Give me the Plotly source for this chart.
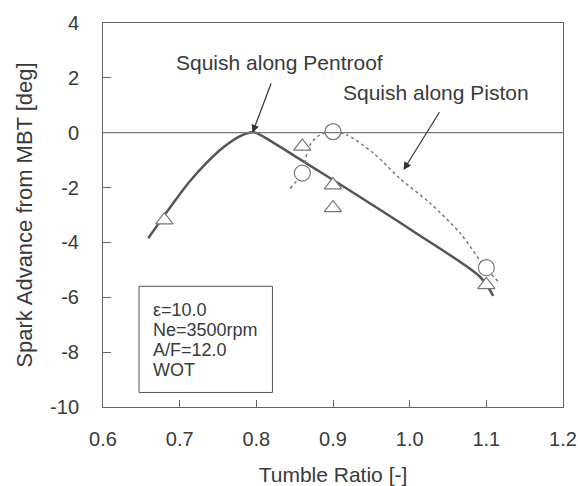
import plotly.graph_objects as go

# Measured points
tri_x = [0.68, 0.86, 0.90, 0.90, 1.10]
tri_y = [-3.19, -0.5, -1.91, -2.74, -5.55]
cir_x = [0.86, 0.90, 1.10]
cir_y = [-1.47, 0.04, -4.92]

# Fitted curves
pent_x = [0.659, 0.679, 0.692, 0.713, 0.735, 0.757, 0.779, 0.796, 0.822, 0.857, 0.909, 1.005, 1.092, 1.109]
pent_y = [-3.85, -3.05, -2.55, -1.78, -1.1, -0.53, -0.12, 0.02, -0.36, -0.97, -1.88, -3.6, -5.26, -5.95]
pist_x = [0.844, 0.86, 0.868, 0.88, 0.898, 0.918, 0.953, 0.987, 1.027, 1.066, 1.098, 1.118]
pist_y = [-2.03, -1.47, -0.55, -0.13, 0.04, -0.08, -0.75, -1.66, -2.58, -3.67, -4.89, -5.5]

x_ticks = [0.6, 0.7, 0.8, 0.9, 1.0, 1.1, 1.2]
x_tick_text = ["0.6", "0.7", "0.8", "0.9", "1.0", "1.1", "1.2"]
y_ticks = [4, 2, 0, -2, -4, -6, -8, -10]
y_tick_text = ["4", "2", "0", "-2", "-4", "-6", "-8", "-10"]

cond_lines = ["ε=10.0", "Ne=3500rpm", "A/F=12.0", "WOT"]
cond_y = [-6.47, -7.2, -7.93, -8.66]

LINE = "#555555"
TXT = "#3a3a3a"
FONT = "Liberation Sans, Arial, sans-serif"

fig = go.Figure()
fig.add_trace(go.Scatter(x=pent_x, y=pent_y, mode="lines",
                         line=dict(color=LINE, width=2.5, shape="spline", smoothing=0.8), showlegend=False))
fig.add_trace(go.Scatter(x=pist_x, y=pist_y, mode="lines",
                         line=dict(color="#777777", width=1.5, dash="dot", shape="spline", smoothing=0.8),
                         showlegend=False))
fig.add_trace(go.Scatter(x=tri_x, y=tri_y, mode="markers",
                         marker=dict(symbol="triangle-up", size=15, color="white",
                                     line=dict(color="#777777", width=1.2)), showlegend=False))
fig.add_trace(go.Scatter(x=cir_x, y=cir_y, mode="markers",
                         marker=dict(symbol="circle", size=16, color="white",
                                     line=dict(color="#777777", width=1.2)), showlegend=False))

# zero line
fig.add_shape(type="line", xref="paper", x0=0, x1=1, yref="y", y0=0, y1=0,
              line=dict(color="#777777", width=1.2))
# condition box
fig.add_shape(type="rect", xref="x", yref="y", x0=0.647, x1=0.821, y0=-9.47, y1=-5.6,
              line=dict(color="#555555", width=1), fillcolor="white")
for t, yy in zip(cond_lines, cond_y):
    fig.add_annotation(x=0.663, y=yy, text=t, showarrow=False, xanchor="left", yanchor="middle",
                       font=dict(family=FONT, size=18, color=TXT))

# labels and arrows
fig.add_annotation(x=0.83, y=2.55, text="Squish along Pentroof", showarrow=False,
                   font=dict(family=FONT, size=21, color=TXT))
fig.add_annotation(x=1.034, y=1.45, text="Squish along Piston", showarrow=False,
                   font=dict(family=FONT, size=21, color=TXT))
fig.add_annotation(x=0.795, y=0.0, ax=0.82, ay=1.85, axref="x", ayref="y", text="",
                   showarrow=True, arrowhead=2, arrowsize=1.3, arrowwidth=1.2, arrowcolor="#333333")
fig.add_annotation(x=0.992, y=-1.36, ax=1.04, ay=0.8, axref="x", ayref="y", text="",
                   showarrow=True, arrowhead=2, arrowsize=1.3, arrowwidth=1.2, arrowcolor="#333333")

fig.update_xaxes(range=[0.6, 1.2], tickvals=x_ticks, ticktext=x_tick_text, automargin=False,
                 ticks="inside", ticklen=7, tickcolor="#666666", tickwidth=1,
                 showline=True, linecolor="#666666", linewidth=1, mirror=True,
                 showgrid=False, zeroline=False, ticklabelstandoff=14,
                 tickfont=dict(family=FONT, size=20, color=TXT),
                 title=dict(text="Tumble Ratio [-]", font=dict(family=FONT, size=21, color=TXT), standoff=18))
fig.update_yaxes(range=[-10, 4], tickvals=y_ticks, ticktext=y_tick_text, automargin=False,
                 ticks="inside", ticklen=8, tickcolor="#666666", tickwidth=1,
                 showline=True, linecolor="#666666", linewidth=1, mirror=True,
                 showgrid=False, zeroline=False, ticklabelstandoff=19,
                 tickfont=dict(family=FONT, size=20, color=TXT),
                 title=dict(text="Spark Advance from MBT [deg]", font=dict(family=FONT, size=22, color=TXT), standoff=11))
fig.update_layout(width=578, height=486, margin=dict(l=103, r=15, t=23, b=79),
                  plot_bgcolor="white", paper_bgcolor="white")
fig.write_html("out.html")
